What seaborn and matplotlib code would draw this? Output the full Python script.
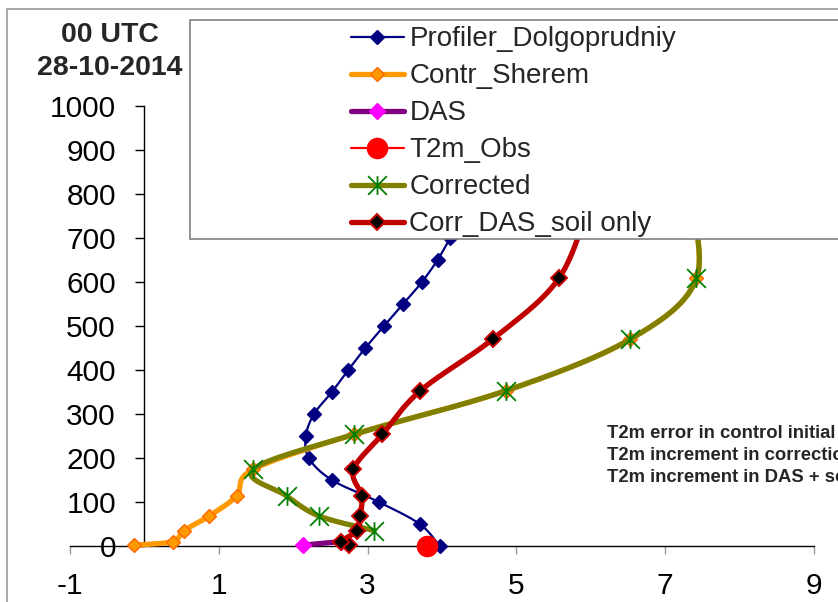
import numpy as np
import pandas as pd
import matplotlib
matplotlib.use("Agg")
import matplotlib.pyplot as plt
from matplotlib.lines import Line2D
from matplotlib.patches import Rectangle
from matplotlib.path import Path
import seaborn as sns

# Temperature profiles (deg C) against height (m)
prof_h = [0, 50, 100, 150, 200, 250, 300, 350, 400, 450, 500, 550, 600, 650, 700]
prof_t = [3.97, 3.70, 3.15, 2.52, 2.21, 2.17, 2.28, 2.52, 2.74, 2.97, 3.22, 3.48, 3.73, 3.94, 4.11]

contr_h = [2, 10, 35, 68, 114, 174, 254, 353, 470, 608, 820]
contr_t = [-0.14, 0.38, 0.53, 0.87, 1.24, 1.46, 2.82, 4.86, 6.53, 7.42, 7.30]

das_h = [2, 10]
das_t = [2.13, 2.64]

obs_h = [0]
obs_t = [3.80]

corr_h = [35, 68, 114, 174, 254, 353, 470, 608, 820]
corr_t = [3.09, 2.35, 1.91, 1.46, 2.82, 4.86, 6.53, 7.42, 7.30]

soil_h = [2, 10, 35, 68, 114, 174, 254, 353, 470, 608, 790]
soil_t = [2.75, 2.64, 2.86, 2.90, 2.92, 2.81, 3.20, 3.71, 4.68, 5.57, 6.00]

x_ticks = [-1, 1, 3, 5, 7, 9]
y_ticks = list(range(0, 1001, 100))

title_lines = ["00 UTC", "28-10-2014"]
notes = ["T2m error in control initial",
         "T2m increment in correction",
         "T2m increment in DAS + soil"]

sns.set_style("white")
plt.rcParams["font.family"] = ["Liberation Sans", "DejaVu Sans"]


def smooth(xs, ys, n=30):
    """Bezier smoothing through the points (Catmull-Rom style tangents)."""
    p = np.column_stack([xs, ys]).astype(float)
    if len(p) < 3:
        return p[:, 0], p[:, 1]
    ext = np.vstack([p[0], p, p[-1]])
    out = [p[0]]
    t = np.linspace(0, 1, n + 1)[1:, None]
    for i in range(len(p) - 1):
        p0, p1, p2, p3 = ext[i], ext[i + 1], ext[i + 2], ext[i + 3]
        c1 = p1 + (p2 - p0) / 6.0
        c2 = p2 - (p3 - p1) / 6.0
        seg = ((1 - t) ** 3) * p1 + 3 * ((1 - t) ** 2) * t * c1 \
            + 3 * (1 - t) * (t ** 2) * c2 + (t ** 3) * p2
        out.extend(seg)
    out = np.array(out)
    return out[:, 0], out[:, 1]


star = Path([(-1, -1), (1, 1), (-1, 1), (1, -1), (0, -1), (0, 1)],
            [Path.MOVETO, Path.LINETO] * 3)

series = [
    dict(label="Profiler_Dolgoprudniy", t=prof_t, h=prof_h, color="#000080", lw=1.6,
         marker="D", ms=6.8, mfc="#000080", mec="#000080", mew=1.0),
    dict(label="Contr_Sherem", t=contr_t, h=contr_h, color="#FF9900", lw=3.8,
         marker="D", ms=6.8, mfc="#FF9900", mec="#FF6600", mew=1.0),
    dict(label="DAS", t=das_t, h=das_h, color="#800080", lw=3.8,
         marker="D", ms=8.5, mfc="#FF00FF", mec="#FF00FF", mew=1.0),
    dict(label="T2m_Obs", t=obs_t, h=obs_h, color="#FF0000", lw=1.6,
         marker="o", ms=14.5, mfc="#FF0000", mec="#FF0000", mew=1.0),
    dict(label="Corrected", t=corr_t, h=corr_h, color="#808000", lw=3.8,
         marker=star, ms=13.5, mfc="none", mec="#008000", mew=1.3),
    dict(label="Corr_DAS_soil only", t=soil_t, h=soil_h, color="#C00000", lw=3.8,
         marker="D", ms=7.8, mfc="#000000", mec="#CC0000", mew=1.4),
]

fig = plt.figure(figsize=(8.38, 6.02), dpi=100)
W, H = 838.0, 602.0
ax = fig.add_axes([70 / W, 1 - 546 / H, (814 - 70) / W, 440 / H])

handles = []
for i, s in enumerate(series):
    sx, sy = smooth(s["t"], s["h"])
    if len(s["t"]) > 1:
        line_df = pd.DataFrame({"t": sx, "h": sy})
        sns.lineplot(data=line_df, x="t", y="h", sort=False, estimator=None,
                     color=s["color"], linewidth=s["lw"], ax=ax,
                     zorder=2 + 2 * i, clip_on=False)
    pts_df = pd.DataFrame({"t": s["t"], "h": s["h"]})
    sns.lineplot(data=pts_df, x="t", y="h", sort=False, estimator=None,
                 linestyle="", marker=s["marker"], markersize=s["ms"],
                 markerfacecolor=s["mfc"], markeredgecolor=s["mec"],
                 markeredgewidth=s["mew"], color=s["color"], ax=ax,
                 zorder=3 + 2 * i, clip_on=False)
    handles.append(Line2D([], [], color=s["color"], lw=s["lw"], marker=s["marker"],
                          markersize=s["ms"], markerfacecolor=s["mfc"],
                          markeredgecolor=s["mec"], markeredgewidth=s["mew"],
                          label=s["label"]))

# spines first: moving a spine resets its axis ticks
ax.spines["left"].set_position(("data", 0))
ax.spines["bottom"].set_position(("data", 0))
for side in ("top", "right"):
    ax.spines[side].set_visible(False)
for side in ("left", "bottom"):
    ax.spines[side].set_color("black")
    ax.spines[side].set_linewidth(1.0)

ax.set_xlim(-1, 9)
ax.set_ylim(0, 1000)
ax.set_xlabel("")
ax.set_ylabel("")
ax.set_xticks(x_ticks)
ax.set_yticks(y_ticks)
ax.set_xticklabels([str(v) for v in x_ticks])
ax.set_yticklabels([str(v) for v in y_ticks])
ax.tick_params(axis="y", direction="out", length=6.5, width=1, color="black",
               pad=14, left=True, labelsize=21.5, labelcolor="black")
ax.tick_params(axis="x", direction="out", length=6, width=1, color="#999999",
               pad=13, bottom=True, labelsize=21.5, labelcolor="black")
ax.patch.set_alpha(0)

# chart area border
fig.add_artist(Rectangle((7 / W, -0.1), 2.0, 1 - 9 / H + 0.1,
                         transform=fig.transFigure, fill=False,
                         edgecolor="#999999", linewidth=1.2, zorder=1))
# legend frame
fig.add_artist(Rectangle((190 / W, 1 - 239 / H), 2.0, 219 / H,
                         transform=fig.transFigure, facecolor="white",
                         edgecolor="#808080", linewidth=1.2, zorder=3))

fig.legend(handles=handles, loc="upper left",
           bbox_to_anchor=(351 / W, 1 - 26.5 / H), bbox_transform=fig.transFigure,
           frameon=False, fontsize=20, handlelength=1.9, handletextpad=0.2,
           labelspacing=0.395, borderpad=0.0, borderaxespad=0.0, numpoints=1)

fig.text(110 / W, 1 - 35 / H, title_lines[0], ha="center", va="center",
         fontsize=20.5, fontweight="bold")
fig.text(110 / W, 1 - 68 / H, title_lines[1], ha="center", va="center",
         fontsize=20.5, fontweight="bold")

for k, note in enumerate(notes):
    fig.text(607 / W, 1 - (434 + 22 * k) / H, note, ha="left", va="center",
             fontsize=13.3, fontweight="bold")

fig.savefig("out.png", dpi=100)
